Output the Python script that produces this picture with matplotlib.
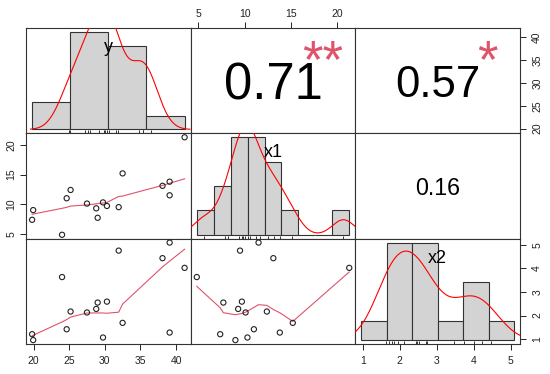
import numpy as np
import matplotlib.pyplot as plt

plt.rcParams['font.family'] = ['Liberation Sans', 'DejaVu Sans']

names = ["y", "x1", "x2"]
y = [19.8, 19.95, 24.0, 24.65, 25.2, 27.5, 28.8, 29.0, 29.75, 30.3, 31.95, 32.5, 38.1, 39.1, 39.1, 41.2]
x1 = [7.36, 9.0, 4.83, 11.0, 12.4, 10.1, 9.3, 7.7, 10.3, 9.7, 9.5, 15.2, 13.1, 13.8, 11.5, 21.3]
x2 = [1.21, 0.96, 3.63, 1.42, 2.17, 2.13, 2.28, 2.55, 1.07, 2.59, 4.75, 1.69, 4.43, 1.28, 5.09, 4.02]

# histogram breaks and axis ticks
breaks_y = [10, 20, 30, 40, 50]
breaks_x1 = [4, 6, 8, 10, 12, 14, 16, 18, 20, 22]
breaks_x2 = [0, 1, 2, 3, 4, 5, 6]
ticks_y = [20, 25, 30, 35, 40]
ticks_x1 = [5, 10, 15, 20]
ticks_x2 = [1, 2, 3, 4, 5]

# upper panels: (row, col), correlation text, significance stars
cor_pairs = [(0, 1), (0, 2), (1, 2)]
cor_text = ["0.71", "0.57", "0.16"]
cor_stars = ["**", "*", ""]

data = [np.array(v, float) for v in (y, x1, x2)]
breaks = [breaks_y, breaks_x1, breaks_x2]
ticks = [ticks_y, ticks_x1, ticks_x2]


def padded(v):
    lo, hi = min(v), max(v)
    d = 0.04 * (hi - lo)
    return lo - d, hi + d


def kde(v):
    # gaussian density, bandwidth like R's bw.nrd0
    n = len(v)
    q75, q25 = np.percentile(v, [75, 25])
    bw = 0.9 * min(v.std(ddof=1), (q75 - q25) / 1.34) * n ** -0.2
    g = np.linspace(v.min() - 3 * bw, v.max() + 3 * bw, 512)
    d = np.exp(-0.5 * ((g[:, None] - v[None, :]) / bw) ** 2).sum(1)
    return g, d / (n * bw * np.sqrt(2 * np.pi))


def lowess(x, yv, f=2 / 3, iters=3):
    o = np.argsort(x, kind="stable")
    x, yv = x[o], yv[o]
    n = len(x)
    ns = max(min(int(round(f * n)), n), 2)
    rw = np.ones(n)
    fit = np.zeros(n)
    for it in range(iters + 1):
        for i in range(n):
            dist = np.abs(x - x[i])
            h = np.sort(dist)[ns - 1]
            w = np.clip(dist / h, 0, 1)
            w = (1 - w ** 3) ** 3 * rw
            sw = w.sum()
            xm = (w * x).sum() / sw
            ym = (w * yv).sum() / sw
            sxx = (w * (x - xm) ** 2).sum()
            b = (w * (x - xm) * (yv - ym)).sum() / sxx if sxx > 1e-12 else 0.0
            fit[i] = ym + b * (x[i] - xm)
        res = yv - fit
        s = np.median(np.abs(res))
        if it < iters and s > 0:
            u = np.clip(res / (6 * s), -1, 1)
            rw = (1 - u ** 2) ** 2
    return x, fit


fig, axes = plt.subplots(3, 3, figsize=(5.5, 3.74), dpi=100)
fig.subplots_adjust(left=0.0473, right=0.9455, bottom=0.0802, top=0.925,
                    wspace=0, hspace=0)

base = 47
for i in range(3):
    for j in range(3):
        ax = axes[i, j]
        ax.set_xlim(padded(data[j]))
        ax.set_ylim(padded(data[i]))
        ax.set_xticks(ticks[j])
        ax.set_yticks(ticks[i])
        ax.tick_params(axis='both', bottom=False, top=False, left=False, right=False,
                       labelbottom=False, labeltop=False, labelleft=False, labelright=False,
                       length=4.3, width=0.7, labelsize=7.5, color='#222', labelcolor='#222')
        for s in ax.spines.values():
            s.set_linewidth(0.8)
            s.set_color('#333333')
        if i == 0 and j % 2 == 1:
            ax.tick_params(axis='x', top=True, labeltop=True, pad=2.5)
        if i == 2 and j % 2 == 0:
            ax.tick_params(axis='x', bottom=True, labelbottom=True, pad=4.5)
        if j == 0 and i % 2 == 1:
            ax.tick_params(axis='y', left=True, labelleft=True, labelrotation=90, pad=2.5)
            for t in ax.get_yticklabels():
                t.set_va('center')
        if j == 2 and i % 2 == 0:
            ax.tick_params(axis='y', right=True, labelright=True, labelrotation=90, pad=4.5)
            for t in ax.get_yticklabels():
                t.set_va('center')

        if i == j:
            v = data[i]
            hax = ax.inset_axes([0, 0, 1, 1])
            hax.set_axis_off()
            hax.patch.set_alpha(0)
            dens, _ = np.histogram(v, bins=breaks[i], density=True)
            hax.hist(v, bins=breaks[i], density=True, color='lightgray',
                     edgecolor='#333333', linewidth=0.8)
            g, d = kde(v)
            hax.plot(g, d, color='red', lw=0.8)
            hax.vlines(v, 0, 0.03, transform=hax.get_xaxis_transform(),
                       color='#333333', lw=0.7)
            hax.set_xlim(padded(breaks[i]))
            hm = dens.max()
            hax.set_ylim(-0.04 * hm, 1.04 * hm)
            hax.text(0.5, 0.833, names[i], transform=hax.transAxes, fontsize=13,
                     ha='center', va='center_baseline', zorder=10)
        elif i > j:
            ax.scatter(data[j], data[i], s=14, facecolors='none',
                       edgecolors='#222222', linewidths=0.8, zorder=3)
            sx, sy = lowess(data[j], data[i])
            ax.plot(sx, sy, color='#DF536B', lw=0.8)

for (i, j), txt, st in zip(cor_pairs, cor_text, cor_stars):
    ax = axes[i, j]
    r = float(txt)
    ax.text(0.5, 0.5, txt, transform=ax.transAxes, fontsize=base * (abs(r) + 0.3) / 1.3,
            ha='center', va='center_baseline')
    if st:
        ax.text(0.8, 0.535, st, transform=ax.transAxes, fontsize=38,
                color='#DF536B', ha='center', va='baseline')

fig.savefig("out.png", dpi=100)
